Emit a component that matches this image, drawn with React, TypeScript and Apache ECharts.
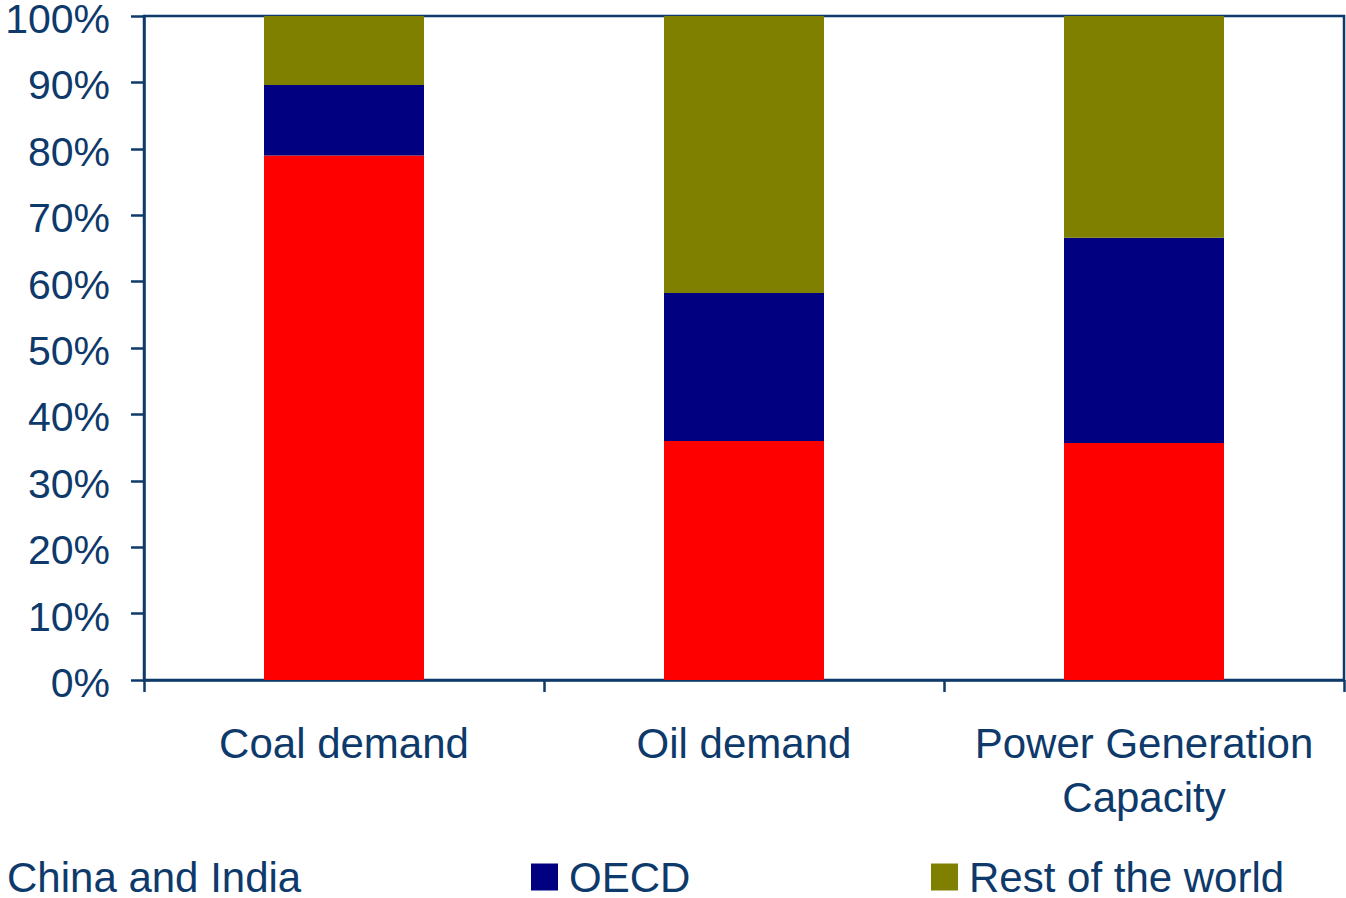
import React, { useEffect, useRef } from "react";
import * as echarts from "echarts";

const categories = ["Coal demand", "Oil demand", "Power Generation\nCapacity"];
const chinaIndia = [79.0, 36.0, 35.7];
const oecd = [10.6, 22.3, 30.9];
const restOfWorld = [10.4, 41.7, 33.4];
const seriesNames = ["China and India", "OECD", "Rest of the world"];
const colors = ["#FF0000", "#000080", "#808000"];

const TEXT = "#0E3A6B";
const FONT = "'Liberation Sans', Arial, sans-serif";

export default function App() {
  const ref = useRef<HTMLDivElement>(null);
  useEffect(() => {
    if (!ref.current) return;
    const chart = echarts.init(ref.current, null, { renderer: "svg" });
    const legendBase = {
      orient: "horizontal",
      top: 856,
      padding: 0,
      itemWidth: 27,
      itemHeight: 27,
      icon: "rect",
      textStyle: { color: TEXT, fontSize: 42, fontFamily: FONT, padding: [0, 0, 0, 6] },
      selectedMode: false,
    };
    chart.setOption({
      animation: false,
      backgroundColor: "#ffffff",
      textStyle: { fontFamily: FONT },
      grid: {
        left: 144,
        right: 2,
        top: 16,
        bottom: 218,
        outerBoundsMode: "none",
        containLabel: false,
        show: true,
        borderColor: TEXT,
        borderWidth: 2.5,
        backgroundColor: "transparent",
      },
      legend: [
        { ...legendBase, left: -31, data: [seriesNames[0]] },
        { ...legendBase, left: 531, data: [seriesNames[1]] },
        { ...legendBase, left: 931, data: [seriesNames[2]] },
      ],
      xAxis: {
        type: "category",
        data: categories,
        axisLine: { lineStyle: { color: TEXT, width: 2.5 } },
        axisTick: { show: true, length: 12, interval: 0, lineStyle: { color: TEXT, width: 2.5 } },
        axisLabel: {
          color: TEXT,
          fontSize: 42,
          fontFamily: FONT,
          margin: 36,
          lineHeight: 54,
          interval: 0,
        },
      },
      yAxis: {
        type: "value",
        min: 0,
        max: 100,
        interval: 10,
        splitLine: { show: false },
        axisLine: { show: true, lineStyle: { color: TEXT, width: 2.5 } },
        axisTick: { show: true, length: 13, lineStyle: { color: TEXT, width: 2.5 } },
        axisLabel: {
          color: TEXT,
          fontSize: 41,
          fontFamily: FONT,
          margin: 34,
          formatter: (v: number) => `{a|${v}%}`,
          rich: {
            a: { color: TEXT, fontSize: 41, fontFamily: FONT, padding: [6, 0, 0, 0] },
          },
        },
      },
      series: [
        { name: seriesNames[0], type: "bar", stack: "s", data: chinaIndia, barWidth: "40%", itemStyle: { color: colors[0] } },
        { name: seriesNames[1], type: "bar", stack: "s", data: oecd, barWidth: "40%", itemStyle: { color: colors[1] } },
        { name: seriesNames[2], type: "bar", stack: "s", data: restOfWorld, barWidth: "40%", itemStyle: { color: colors[2] } },
      ],
    });
    return () => chart.dispose();
  }, []);
  return <div ref={ref} style={{ width: 1346, height: 898, position: "absolute", left: 0, top: 0 }} />;
}
